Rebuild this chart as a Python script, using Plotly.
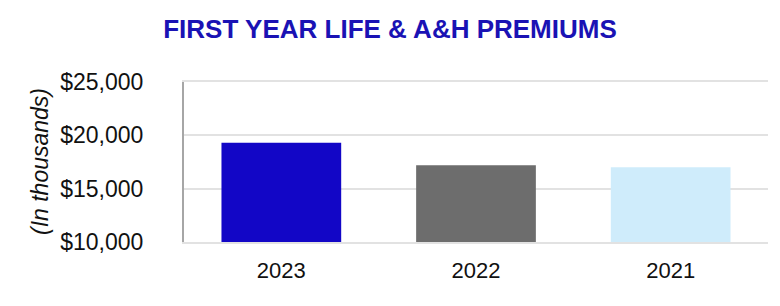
import plotly.graph_objects as go

years = ["2023", "2022", "2021"]
premiums = [19300, 17200, 17000]
bar_colors = ["#1206C6", "#6D6D6D", "#CFECFB"]
y_ticks = [10000, 15000, 20000, 25000]
y_tick_labels = ["$10,000", "$15,000", "$20,000", "$25,000"]

fig = go.Figure(go.Bar(
    x=years, y=premiums, marker=dict(color=bar_colors, line=dict(width=0)),
))

W, H = 780, 306
ml, mr, mt, mb = 184, 12, 82, 64

fig.update_layout(
    width=W, height=H,
    margin=dict(l=ml, r=mr, t=mt, b=mb),
    paper_bgcolor="white", plot_bgcolor="white",
    bargap=0.385,
    showlegend=False,
    font=dict(family="Liberation Sans, Arial, sans-serif", color="#111111"),
    title=dict(
        text="<b>FIRST YEAR LIFE &amp; A&amp;H PREMIUMS</b>",
        x=0.5, xref="container", xanchor="center",
        y=1 - 29 / H, yref="container", yanchor="middle",
        font=dict(size=26, color="#1A12B4", family="Liberation Sans, Arial, sans-serif"),
    ),
    xaxis=dict(
        showgrid=False, zeroline=False,
        showline=True, linecolor="#E2E2E2", linewidth=2, mirror=True,
        tickfont=dict(size=22), ticks="", ticklabelstandoff=8,
    ),
    yaxis=dict(
        range=[10000, 25000], tickvals=y_ticks, ticktext=y_tick_labels,
        showgrid=True, gridcolor="#E2E2E2", gridwidth=2,
        showline=True, linecolor="#A6A6A6", linewidth=2,
        zeroline=False, ticks="", tickfont=dict(size=23),
        ticklabelstandoff=34,
    ),
    annotations=[dict(
        text="<i>(In thousands)</i>", textangle=-90,
        xref="paper", yref="paper", x=(40 - ml) / (W - ml - mr), y=0.5,
        xanchor="center", yanchor="middle", showarrow=False,
        font=dict(size=23, color="#111111"),
    )],
)

fig.write_html("out.html")
